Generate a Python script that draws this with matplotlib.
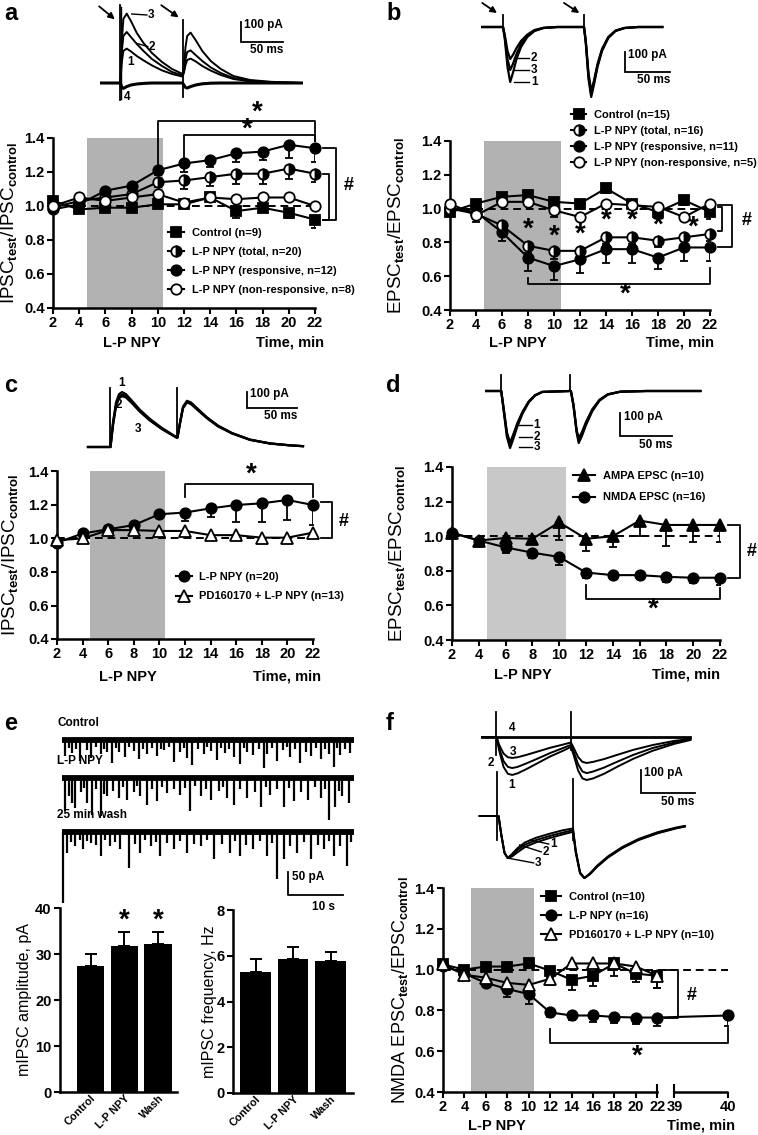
import matplotlib
matplotlib.use('Agg')
import matplotlib.pyplot as plt
import numpy as np

plt.rcParams['font.family'] = ['Liberation Sans', 'DejaVu Sans']
plt.rcParams['font.weight'] = 'bold'
plt.rcParams['mathtext.fontset'] = 'custom'
plt.rcParams['mathtext.rm'] = 'Liberation Sans'
plt.rcParams['mathtext.bf'] = 'Liberation Sans:bold'
plt.rcParams['axes.linewidth'] = 1.8

# ---------------- data ----------------
time = [2, 4, 6, 8, 10, 12, 14, 16, 18, 20, 22]
time_ticks = [2, 4, 6, 8, 10, 12, 14, 16, 18, 20, 22]

# panel a (IPSC)
a_control = [1.03, 0.98, 0.99, 0.99, 1.01, 1.01, 1.05, 0.97, 0.99, 0.96, 0.92]
a_control_err = [0.02, 0.02, 0.02, 0.02, 0.02, 0.02, 0.02, 0.04, 0.02, 0.03, 0.05]
a_total = [0.99, 1.03, 1.05, 1.07, 1.14, 1.15, 1.17, 1.19, 1.19, 1.22, 1.19]
a_total_err = [0.02, 0.02, 0.02, 0.03, 0.03, 0.05, 0.05, 0.06, 0.06, 0.06, 0.05]
a_resp = [0.98, 1.01, 1.09, 1.12, 1.21, 1.25, 1.27, 1.31, 1.32, 1.36, 1.34]
a_resp_err = [0.02, 0.02, 0.02, 0.02, 0.03, 0.05, 0.04, 0.05, 0.05, 0.08, 0.08]
a_nonresp = [1.0, 1.05, 1.03, 1.05, 1.07, 1.02, 1.05, 1.04, 1.05, 1.05, 1.0]
a_nonresp_err = [0.02, 0.02, 0.02, 0.02, 0.02, 0.02, 0.02, 0.02, 0.02, 0.02, 0.02]

# panel b (EPSC)
b_control = [0.98, 1.03, 1.07, 1.08, 1.04, 1.03, 1.12, 1.03, 0.98, 1.05, 0.98]
b_control_err = [0.02, 0.02, 0.02, 0.02, 0.03, 0.03, 0.03, 0.02, 0.03, 0.03, 0.04]
b_total = [1.0, 0.97, 0.90, 0.78, 0.75, 0.75, 0.83, 0.83, 0.81, 0.83, 0.85]
b_total_err = [0.02, 0.03, 0.04, 0.04, 0.05, 0.04, 0.04, 0.04, 0.04, 0.04, 0.04]
b_resp = [1.0, 0.98, 0.86, 0.71, 0.66, 0.70, 0.76, 0.76, 0.71, 0.77, 0.77]
b_resp_err = [0.02, 0.03, 0.05, 0.08, 0.08, 0.08, 0.08, 0.08, 0.07, 0.08, 0.08]
b_nonresp = [1.03, 0.96, 1.04, 1.04, 0.99, 0.95, 1.03, 1.02, 1.01, 0.95, 1.03]
b_nonresp_err = [0.02, 0.04, 0.02, 0.02, 0.04, 0.02, 0.03, 0.02, 0.02, 0.02, 0.02]

# panel c
c_lp = [0.975, 1.03, 1.055, 1.08, 1.145, 1.155, 1.18, 1.20, 1.21, 1.23, 1.20]
c_lp_err = [0.01, 0.01, 0.01, 0.02, 0.02, 0.05, 0.05, 0.10, 0.11, 0.12, 0.12]
c_pd = [0.99, 1.0, 1.05, 1.05, 1.045, 1.045, 1.02, 1.02, 1.005, 1.005, 1.035]
c_pd_err = [0.01, 0.01, 0.01, 0.01, 0.01, 0.01, 0.01, 0.01, 0.01, 0.01, 0.01]

# panel d
d_ampa = [1.02, 0.975, 0.99, 0.985, 1.08, 0.985, 1.0, 1.09, 1.065, 1.065, 1.065]
d_ampa_err = [0.01, 0.01, 0.04, 0.03, 0.10, 0.07, 0.065, 0.09, 0.12, 0.10, 0.10]
d_nmda = [1.02, 0.975, 0.935, 0.905, 0.88, 0.79, 0.775, 0.775, 0.765, 0.76, 0.76]
d_nmda_err = [0.01, 0.01, 0.03, 0.03, 0.045, 0.03, 0.025, 0.025, 0.03, 0.03, 0.04]

# panel e
bar_cats = ['Control', 'L-P NPY', 'Wash']
amp_vals = [27.3, 31.7, 32.1]
amp_err = [2.7, 3.1, 2.7]
freq_vals = [5.3, 5.85, 5.75]
freq_err = [0.55, 0.55, 0.4]
# mIPSC events: time (s), amplitude (pA)
ctrl_ev_t = [0.6, 1.2, 1.8, 2.6, 3.3, 4.5, 5.2, 6.1, 7.0, 7.6, 8.2, 9.1, 9.8, 10.4, 11.5, 12.2, 13.0,
             14.0, 14.8, 15.5, 16.4, 17.3, 18.0, 18.6, 19.5, 20.3, 21.5, 22.1, 22.7, 23.6, 24.7, 25.8,
             26.4, 27.0, 28.2, 28.9, 29.6, 30.4, 31.2, 32.4, 33.0, 33.6, 34.8, 35.8, 36.7, 37.3, 38.2,
             39.1, 40.2, 40.9, 41.5, 42.4, 43.3, 44.4, 45.2, 46.1, 47.0, 47.8, 48.5, 49.4, 50.0, 50.6,
             51.5, 52.4]
ctrl_ev_a = [35, 18, 28, 20, 45, 22, 40, 16, 30, 20, 25, 50, 18, 27, 38, 15, 24, 42, 20, 30, 17, 35,
             19, 22, 16, 48, 26, 18, 40, 55, 20, 30, 16, 24, 44, 18, 28, 20, 36, 52, 17, 25, 33, 19,
             60, 30, 18, 45, 22, 16, 38, 20, 50, 27, 35, 18, 42, 20, 30, 58, 17, 33, 20, 28]
lp_ev_t = [0.6, 1.2, 1.8, 2.4, 3.4, 4.0, 4.5, 5.5, 6.2, 7.0, 7.6, 8.2, 9.3, 10.3, 11.0, 11.8, 13.0,
           13.6, 14.2, 15.5, 16.4, 17.3, 18.2, 19.1, 20.4, 21.5, 22.4, 23.3, 24.2, 25.2, 26.1, 27.0,
           28.5, 29.2, 30.0, 31.2, 32.4, 33.6, 35.0, 36.1, 37.0, 37.9, 39.0, 40.3, 41.2, 42.1, 43.5,
           44.8, 46.0, 47.0, 47.8, 48.5, 49.7, 50.3, 50.9, 52.1]
lp_ev_a = [72, 40, 54, 65, 30, 22, 54, 80, 25, 83, 35, 40, 28, 43, 20, 47, 30, 18, 40, 58, 24, 51,
           20, 33, 25, 36, 22, 72, 18, 40, 24, 47, 28, 20, 43, 58, 25, 43, 30, 62, 20, 36, 25, 62,
           22, 51, 30, 47, 20, 43, 25, 91, 62, 28, 40, 54]
wash_ev_t = [0.2, 0.9, 1.6, 2.4, 3.2, 3.9, 4.6, 5.2, 6.1, 7.0, 7.9, 8.8, 9.7, 10.6, 12.1, 13.2, 14.2,
             15.1, 16.1, 17.0, 17.9, 19.0, 20.3, 21.5, 22.7, 24.0, 25.2, 26.4, 27.6, 29.0, 30.6, 31.5,
             32.4, 33.5, 34.8, 36.0, 37.3, 38.2, 39.1, 40.3, 41.5, 42.7, 44.0, 45.2, 46.5, 47.6, 48.5,
             49.4, 50.6, 51.8, 52.6]
wash_ev_a = [154, 45, 22, 30, 18, 38, 20, 23, 28, 52, 18, 30, 22, 38, 78, 25, 45, 18, 30, 22, 52, 24,
             38, 20, 45, 27, 30, 18, 59, 25, 45, 20, 52, 28, 38, 20, 52, 24, 103, 59, 30, 45, 22, 59,
             28, 38, 20, 52, 30, 74, 22]

# panel f
f_time_lp = [2, 4, 6, 8, 10, 12, 14, 16, 18, 20, 22, 40]
f_ticks = [2, 4, 6, 8, 10, 12, 14, 16, 18, 20, 22, 39, 40]
f_control = [1.025, 1.0, 1.015, 1.015, 1.03, 0.995, 0.95, 0.97, 1.03, 0.98, 0.97]
f_control_err = [0.01, 0.01, 0.02, 0.02, 0.02, 0.03, 0.05, 0.05, 0.03, 0.04, 0.06]
f_lp = [1.02, 0.98, 0.935, 0.905, 0.88, 0.79, 0.775, 0.775, 0.768, 0.765, 0.765, 0.775]
f_lp_err = [0.01, 0.01, 0.02, 0.04, 0.05, 0.02, 0.02, 0.03, 0.03, 0.03, 0.04, 0.05]
f_pd = [1.025, 0.975, 0.96, 0.935, 0.925, 0.955, 1.03, 1.03, 1.03, 1.015, 0.97]
f_pd_err = [0.01, 0.01, 0.02, 0.03, 0.03, 0.03, 0.02, 0.02, 0.06, 0.02, 0.06]

# example current traces (time ms, current pA)
a_t = [-22, 0.5, 2, 4, 8, 13, 20, 28, 38, 50, 62, 74.5, 76, 78, 80, 84, 90, 98, 108, 120, 135, 155, 180, 216]
a_tr3 = [0, 0, 200, 320, 347, 310, 250, 200, 150, 105, 70, 45, 80, 180, 235, 252, 215, 160, 110, 70, 35, 15, 6, 0]
a_tr2 = [0, 0, 150, 235, 255, 230, 195, 160, 120, 85, 55, 38, 60, 120, 155, 163, 140, 110, 78, 50, 25, 10, 4, 0]
a_tr1 = [0, 0, 100, 160, 172, 158, 135, 113, 88, 63, 45, 32, 50, 90, 115, 122, 108, 85, 62, 40, 20, 8, 3, 0]
a_tr4 = [0, 0, -20, -27, -18, -10, -5, -2, 0, 0, 0, 0, -10, -22, -25, -18, -10, -4, -1, 0, 0, 0, 0, 0]

b_t = [-23, -0.5, 0, 2, 5, 8, 11, 15, 20, 27, 35, 45, 60, 89.5, 90, 92, 95, 98, 101, 105, 110, 117, 125, 135, 150, 177]
b_tr1 = [0, 0, 0, -60, -200, -275, -230, -160, -100, -50, -20, -5, 0, 0, 0, -80, -260, -350, -290, -200, -120, -55, -20, -5, 0, 0]
b_tr2 = [0, 0, 0, -40, -120, -160, -140, -105, -70, -38, -15, -4, 0, 0, 0, -70, -230, -320, -270, -185, -110, -50, -18, -5, 0, 0]
b_tr3 = [0, 0, 0, -50, -160, -215, -185, -135, -85, -45, -18, -5, 0, 0, 0, -75, -245, -335, -280, -192, -115, -52, -19, -5, 0, 0]

c_t = [-22, -0.5, 0.5, 3, 6, 9, 12, 16, 22, 30, 40, 52, 66.5, 67.5, 70, 73, 77, 81, 88, 97, 108, 122, 140, 160, 180, 193]
c_tr1 = [0, 0, 0, 150, 270, 320, 333, 320, 280, 225, 170, 115, 60, 60, 150, 245, 280, 270, 230, 180, 130, 85, 45, 22, 10, 5]
c_tr2 = [0, 0, 0, 140, 255, 305, 318, 308, 270, 217, 163, 110, 58, 58, 145, 238, 273, 263, 225, 176, 127, 83, 44, 21, 10, 5]
c_tr3 = [0, 0, 0, 130, 245, 295, 308, 300, 265, 213, 160, 108, 57, 57, 142, 235, 270, 260, 222, 174, 125, 82, 43, 21, 10, 5]

d_t = [-14, -0.5, 0.5, 3, 6, 9, 12, 16, 21, 27, 33, 40, 66.5, 67.5, 70, 73, 75, 78, 82, 88, 95, 103, 115, 140, 192]
d_tr1 = [0, 0, 0, -80, -180, -225, -190, -140, -90, -45, -18, -4, 0, 0, -60, -170, -205, -180, -135, -80, -38, -14, -3, 0, 0]
d_tr2 = [0, 0, 0, -85, -190, -236, -200, -147, -94, -47, -19, -4, 0, 0, -62, -175, -215, -188, -141, -84, -40, -15, -3, 0, 0]
d_tr3 = [0, 0, 0, -90, -200, -248, -210, -154, -98, -49, -20, -4, 0, 0, -65, -180, -226, -197, -148, -88, -42, -16, -3, 0, 0]

f1_t = [-13, -0.5, 0.5, 3, 7, 11, 15, 20, 28, 38, 50, 62, 68.5, 69.5, 72, 76, 80, 84, 90, 100, 112, 127, 145, 165, 180]
f1_tr1 = [0, 0, 0, -60, -130, -160, -165, -158, -140, -115, -85, -60, -45, -45, -80, -145, -180, -187, -180, -160, -130, -95, -60, -30, -13]
f1_tr2 = [0, 0, 0, -50, -105, -130, -135, -130, -115, -95, -70, -48, -36, -36, -65, -118, -150, -157, -150, -133, -108, -78, -48, -24, -10]
f1_tr3 = [0, 0, 0, -35, -72, -88, -91, -88, -78, -64, -47, -33, -25, -25, -48, -87, -108, -113, -108, -96, -78, -56, -35, -17, -8]
f1_tr4 = [0, 0, 0, 0, 0, 0, 0, 0, 0, 0, 0, 0, 0, 0, 0, 0, 0, 0, 0, 0, 0, 0, 0, 0, 0]

f2_t = [-17, -0.5, 0.5, 3, 6, 9, 13, 18, 25, 35, 47, 60, 68.5, 69.5, 72, 76, 80, 85, 92, 102, 115, 130, 148, 165, 173]
f2_tr1 = [0, 0, 0, -80, -160, -183, -165, -140, -115, -95, -78, -62, -55, -55, -150, -245, -270, -250, -215, -175, -135, -100, -70, -50, -43]
f2_tr2 = [0, 0, 0, -80, -160, -183, -170, -148, -125, -105, -88, -72, -63, -63, -155, -248, -270, -252, -218, -178, -138, -103, -73, -52, -45]
f2_tr3 = [0, 0, 0, -80, -160, -183, -176, -158, -135, -115, -97, -80, -70, -70, -160, -250, -270, -254, -220, -180, -140, -105, -75, -54, -46]

# ---------------- helpers ----------------
W, H = 758, 1135
fig = plt.figure(figsize=(W / 100, H / 100), dpi=100)
K = 'black'
SHADE = '#b2b2b2'


def px_axes(x0, y0, x1, y1):
    return fig.add_axes([x0 / W, 1 - y1 / H, (x1 - x0) / W, (y1 - y0) / H])


def trace_axes(x0, y0, x1, y1, stim_x, ms_px, base_y, pa_px):
    ax = px_axes(x0, y0, x1, y1)
    ax.set_xlim((x0 - stim_x) / ms_px, (x1 - stim_x) / ms_px)
    ax.set_ylim((base_y - y1) / pa_px, (base_y - y0) / pa_px)
    ax.axis('off')
    return ax


def scalebar(ax, t, pa, tlen, plen, ylab, xlab, fs=8.5):
    ax.plot([t, t, t + tlen], [pa + plen, pa, pa], color=K, lw=1.3, clip_on=False,
            solid_joinstyle='miter')
    ax.text(t + 0.07 * tlen, pa + 0.85 * plen, ylab, ha='left', va='center', fontsize=fs)
    ax.text(t + tlen, pa - 0.12 * plen, xlab, ha='right', va='top', fontsize=fs)


def style_ts(ax, ylim=(0.4, 1.4), xlim=(2, 22)):
    for s in ['top', 'right']:
        ax.spines[s].set_visible(False)
    ax.set_xlim(*xlim)
    ax.set_ylim(*ylim)
    ax.set_yticks([0.4, 0.6, 0.8, 1.0, 1.2, 1.4])
    ax.set_yticklabels(['0.4', '0.6', '0.8', '1.0', '1.2', '1.4'])
    ax.tick_params(direction='out', length=4, width=1.5, labelsize=10.5, pad=2)


def series(ax, x, y, err, marker, fc='k', fillstyle='full', label=None, ms=7.5, z=3):
    ax.errorbar(x, y, yerr=[err, [0] * len(err)], fmt='none', ecolor=K, elinewidth=1.3,
                capsize=3, capthick=1.3, zorder=z - 0.5)
    ln, = ax.plot(x, y, color=K, lw=1.5, marker=marker, ms=ms, mfc=fc, mec=K, mew=1.3,
                  fillstyle=fillstyle, markerfacecoloralt='white', clip_on=False, zorder=z,
                  label=label)
    return ln


def bracket(ax, x0, x1, ytop, yl, yr):
    ax.plot([x0, x0, x1, x1], [yl, ytop, ytop, yr], color=K, lw=1.3, clip_on=False)


def vbracket(ax, x, x_in, y0, y1):
    ax.plot([x_in, x, x, x_in], [y0, y0, y1, y1], color=K, lw=1.3, clip_on=False)


def star(ax, x, y, fs=20):
    ax.text(x, y, '*', ha='center', va='center', fontsize=fs, fontweight='bold', clip_on=False)


def legend(ax, handles, anchor, spacing, hl=1.4):
    ax.legend(handles=handles, loc='upper left', bbox_to_anchor=anchor, frameon=False,
              handlelength=hl, handletextpad=0.7, labelspacing=spacing, borderpad=0,
              borderaxespad=0, numpoints=1, prop={'weight': 'bold', 'size': 8})


def xlabels(ax, xl, xr, y):
    tr = ax.get_xaxis_transform()
    ax.text(xl, y, 'L-P NPY', transform=tr, ha='center', va='center', fontsize=10.5)
    ax.text(xr, y, 'Time, min', transform=tr, ha='center', va='center', fontsize=10.5)


def dashed(ax, x0, x1):
    ax.plot([x0, x1], [1.0, 1.0], color=K, lw=1.4, ls=(0, (4, 2.5)), zorder=1)


def panel_letter(x, y, s):
    fig.text(x / W, 1 - y / H, s, fontsize=17, fontweight='bold', ha='left', va='center')


def draw_traces(ax, t, traces, lw=1.4):
    for tr in traces:
        ax.plot(t, tr, color=K, lw=lw, solid_joinstyle='round')


# ---------------- panel a ----------------
panel_letter(4, 14, 'a')
ta = trace_axes(88, 0, 305, 102, 120, 0.84, 83, 0.2)
draw_traces(ta, a_t, [a_tr1, a_tr2, a_tr3])
ta.plot(a_t, a_tr4, color=K, lw=2.2)
ta.plot([0, 0], [-85, 390], color=K, lw=1.3)
ta.plot([1.5, 1.5], [-80, 380], color=K, lw=1.0)
ta.plot([75, 75], [-70, 315], color=K, lw=1.3)
ta.annotate('', xy=(-3.6, 310), xytext=(-27.4, 392),
            arrowprops=dict(arrowstyle='-|>', color=K, lw=1.3, mutation_scale=9))
ta.annotate('', xy=(72.6, 320), xytext=(46.4, 397),
            arrowprops=dict(arrowstyle='-|>', color=K, lw=1.3, mutation_scale=9))
ta.plot([14, 32], [345, 340], color=K, lw=1.0)
ta.text(33, 340, '3', ha='left', va='center', fontsize=8.5)
ta.plot([20, 33], [198, 182], color=K, lw=1.0)
ta.text(34, 180, '2', ha='left', va='center', fontsize=8.5)
ta.text(12, 105, '1', ha='center', va='center', fontsize=8.5)
ta.text(8.3, -70, '4', ha='center', va='center', fontsize=8.5)
scalebar(ta, 144, 205, 50, 100, '100 pA', '50 ms')

axa = px_axes(53, 138, 315, 308)
style_ts(axa)
axa.axvspan(4.6, 10.4, facecolor=SHADE, edgecolor='none', zorder=0)
dashed(axa, time[0], time[-1])
h1 = series(axa, time, a_control, a_control_err, 's', label='Control (n=9)')
h2 = series(axa, time, a_total, a_total_err, 'o', fillstyle='right', label='L-P NPY (total, n=20)')
h3 = series(axa, time, a_resp, a_resp_err, 'o', label='L-P NPY (responsive, n=12)')
h4 = series(axa, time, a_nonresp, a_nonresp_err, 'o', fc='white', label='L-P NPY (non-responsive, n=8)')
axa.set_xticks(time_ticks)
axa.set_ylabel('IPSC$_{\\rm test}$/IPSC$_{\\rm control}$', fontsize=13.5)
axa.yaxis.set_label_coords(-0.125, 0.5)
legend(axa, [h1, h2, h3, h4], (0.44, 0.47), 0.8)
bracket(axa, 10, 22, 1.5, a_resp[4] + 0.03, a_resp[-1] + 0.04)
bracket(axa, 12, 22, 1.42, a_resp[5] + 0.04, a_resp[-1] + 0.04)
star(axa, 17.6, 1.55)
star(axa, 16.8, 1.45)
vbracket(axa, 23.6, 22.6, a_resp[-1], a_control[-1])
vbracket(axa, 23.1, 22.6, a_total[-1], a_control[-1])
axa.text(24.6, 1.12, '#', ha='center', va='center', fontsize=13)
xlabels(axa, 8.0, 20.1, -0.205)

# ---------------- panel b ----------------
panel_letter(386, 14, 'b')
tb = trace_axes(470, 0, 700, 105, 503, 0.9, 27, 0.2)
draw_traces(tb, b_t, [b_tr1, b_tr2, b_tr3], lw=1.6)
tb.plot([0, 0], [0, 60], color=K, lw=1.3)
tb.plot([90, 90], [0, 60], color=K, lw=1.3)
tb.annotate('', xy=(-4.1, 62), xytext=(-25.6, 128),
            arrowprops=dict(arrowstyle='-|>', color=K, lw=1.3, mutation_scale=9))
tb.annotate('', xy=(87.4, 62), xytext=(65.2, 128),
            arrowprops=dict(arrowstyle='-|>', color=K, lw=1.3, mutation_scale=9))
for yv, s in zip([-153, -215, -273], ['2', '3', '1']):
    tb.plot([12, 29], [yv, yv], color=K, lw=1.0)
    tb.text(31, yv, s, ha='left', va='center', fontsize=8.5)
scalebar(tb, 135.6, -225, 50, 100, '100 pA', '50 ms')

axb = px_axes(450, 141, 710, 310)
style_ts(axb)
axb.axvspan(4.6, 10.5, facecolor=SHADE, edgecolor='none', zorder=0)
dashed(axb, time[0], time[-1])
g1 = series(axb, time, b_control, b_control_err, 's', label='Control (n=15)')
g2 = series(axb, time, b_total, b_total_err, 'o', fillstyle='right', label='L-P NPY (total, n=16)', z=4)
g3 = series(axb, time, b_resp, b_resp_err, 'o', label='L-P NPY (responsive, n=11)')
g4 = series(axb, time, b_nonresp, b_nonresp_err, 'o', fc='white', label='L-P NPY (non-responsive, n=5)', z=4)
axb.set_xticks(time_ticks)
axb.set_ylabel('EPSC$_{\\rm test}$/EPSC$_{\\rm control}$', fontsize=13.5)
axb.yaxis.set_label_coords(-0.165, 0.5)
legend(axb, [g1, g2, g3, g4], (0.465, 1.185), 0.55)
for xs, ys in zip([8, 10, 12, 14, 16, 18, 20.7], [0.875, 0.835, 0.845, 0.93, 0.93, 0.90, 0.89]):
    star(axb, xs, ys)
bracket(axb, 8, 22, 0.555, b_resp[3] - 0.12, b_resp[-1] - 0.12)
star(axb, 15.5, 0.49)
vbracket(axb, 23.7, 22.6, b_control[-1] + 0.04, b_resp[-1])
vbracket(axb, 22.95, 22.6, b_nonresp[-1] - 0.02, b_total[-1] + 0.02)
axb.text(24.8, 0.93, '#', ha='center', va='center', fontsize=13)
xlabels(axb, 7.2, 19.7, -0.195)

# ---------------- panel c ----------------
panel_letter(4, 385, 'c')
tc = trace_axes(85, 375, 305, 452, 110, 1.0, 447, 0.165)
draw_traces(tc, c_t, [c_tr1, c_tr2, c_tr3], lw=1.6)
tc.plot([0, 0], [0, 357], color=K, lw=1.3)
tc.plot([67, 67], [55, 357], color=K, lw=1.3)
tc.text(12, 385, '1', ha='center', va='center', fontsize=8.5)
tc.text(9, 255, '2', ha='center', va='center', fontsize=8.5)
tc.text(28, 109, '3', ha='center', va='center', fontsize=8.5)
scalebar(tc, 137, 236, 50, 100, '100 pA', '50 ms')

axc = px_axes(57, 471.5, 313, 639)
style_ts(axc)
axc.axvspan(4.6, 10.4, facecolor=SHADE, edgecolor='none', zorder=0)
dashed(axc, time[0], time[-1])
k1 = series(axc, time, c_lp, c_lp_err, 'o', label='L-P NPY (n=20)')
k2 = series(axc, time, c_pd, c_pd_err, '^', fc='white', label='PD160170 + L-P NPY (n=13)', ms=8)
axc.set_xticks(time_ticks)
axc.set_ylabel('IPSC$_{\\rm test}$/IPSC$_{\\rm control}$', fontsize=13.5)
axc.yaxis.set_label_coords(-0.14, 0.5)
legend(axc, [k1, k2], (0.465, 0.40), 0.85)
bracket(axc, 12, 22, 1.325, c_lp[5] + 0.09, c_lp[-1] + 0.05)
star(axc, 17.2, 1.38)
vbracket(axc, 23.5, 22.6, c_lp[-1] + 0.02, 1.0)
axc.text(24.4, 1.1, '#', ha='center', va='center', fontsize=13)
xlabels(axc, 7.5, 20.0, -0.225)

# ---------------- panel d ----------------
panel_letter(386, 385, 'd')
td = trace_axes(480, 365, 705, 455, 500.7, 1.04, 391, 0.23)
draw_traces(td, d_t, [d_tr1, d_tr2, d_tr3], lw=1.6)
td.plot([0, 0], [0, 70], color=K, lw=1.3)
td.plot([67, 67], [0, 70], color=K, lw=1.3)
for yv, s in zip([-148, -200, -243], ['1', '2', '3']):
    td.plot([18, 30], [yv, yv], color=K, lw=1.0)
    td.text(31.5, yv, s, ha='left', va='center', fontsize=8.5)
scalebar(td, 114.7, -196, 50, 100, '100 pA', '50 ms')

axd = px_axes(452, 467, 720, 640)
style_ts(axd)
axd.axvspan(4.6, 10.5, facecolor='#c8c8c8', edgecolor='none', zorder=0)
dashed(axd, time[0], time[-1])
m1 = series(axd, time, d_ampa, d_ampa_err, '^', label='AMPA EPSC (n=10)', ms=8)
m2 = series(axd, time, d_nmda, d_nmda_err, 'o', label='NMDA EPSC (n=16)')
axd.set_xticks(time_ticks)
axd.set_ylabel('EPSC$_{\\rm test}$/EPSC$_{\\rm control}$', fontsize=13.5)
axd.yaxis.set_label_coords(-0.165, 0.5)
legend(axd, [m1, m2], (0.45, 0.975), 1.0, hl=2.0)
bracket(axd, 12, 22, 0.635, d_nmda[5] - 0.07, d_nmda[-1] - 0.06)
star(axd, 17.0, 0.575)
vbracket(axd, 23.5, 22.6, d_ampa[-1], d_nmda[-1])
axd.text(24.4, 0.91, '#', ha='center', va='center', fontsize=13)
xlabels(axd, 7.3, 19.5, -0.2)

# ---------------- panel e ----------------
panel_letter(4, 724, 'e')
te = px_axes(55, 710, 360, 905)
te.set_xlim((55 - 62) / 5.5, (360 - 62) / 5.5)
te.set_ylim((740 - 905) / 0.46, (740 - 710) / 0.46)
te.axis('off')
trace_offsets = [0, -82.6, -200]
trace_names = ['Control', 'L-P NPY', '25 min wash']
trace_events = [(ctrl_ev_t, ctrl_ev_a), (lp_ev_t, lp_ev_a), (wash_ev_t, wash_ev_a)]
for off, name, (evt, eva) in zip(trace_offsets, trace_names, trace_events):
    te.plot([0, 53], [off, off], color=K, lw=4.2, solid_capstyle='butt')
    te.vlines(evt, off, [off - a for a in eva], color=K, lw=1.6)
    te.text(-0.9, off + 38, name, ha='left', va='center', fontsize=8.5)
te.plot([41.1, 41.1, 51.1], [-287, -337, -337], color=K, lw=1.3, clip_on=False)
te.text(41.8, -297, '50 pA', ha='left', va='center', fontsize=8.5)
te.text(47.5, -350, '10 s', ha='center', va='top', fontsize=8.5)


def style_bar(ax, ylabel, labx):
    for s in ['top', 'right']:
        ax.spines[s].set_visible(False)
    ax.tick_params(axis='y', direction='out', length=4, width=1.5, labelsize=10.5, pad=2)
    ax.tick_params(axis='x', length=0, labelsize=7.8, pad=1)
    ax.set_xticks(range(len(bar_cats)))
    ax.set_xticklabels(bar_cats, rotation=45, ha='right', rotation_mode='anchor')
    ax.set_ylabel(ylabel, fontsize=11.5)
    ax.yaxis.set_label_coords(labx, 0.5)


axe1 = px_axes(60, 908, 177, 1092)
axe1.bar(range(3), amp_vals, width=0.82, color=K, zorder=2)
axe1.errorbar(range(3), amp_vals, yerr=[[0] * 3, amp_err], fmt='none', ecolor=K, elinewidth=1.4,
              capsize=4, capthick=1.4, zorder=1)
axe1.set_xlim(-0.9, 2.55)
axe1.set_ylim(0, 40)
axe1.set_yticks([0, 10, 20, 30, 40])
style_bar(axe1, 'mIPSC amplitude, pA', -0.24)
star(axe1, 1, amp_vals[1] + amp_err[1] + 2.5)
star(axe1, 2, amp_vals[2] + amp_err[2] + 2.5)

axe2 = px_axes(233, 910, 353, 1093)
axe2.bar(range(3), freq_vals, width=0.82, color=K, zorder=2)
axe2.errorbar(range(3), freq_vals, yerr=[[0] * 3, freq_err], fmt='none', ecolor=K, elinewidth=1.4,
              capsize=4, capthick=1.4, zorder=1)
axe2.set_xlim(-0.6, 2.6)
axe2.set_ylim(0, 8)
axe2.set_yticks([0, 2, 4, 6, 8])
style_bar(axe2, 'mIPSC frequency, Hz', -0.13)

# ---------------- panel f ----------------
panel_letter(386, 723, 'f')
tf1 = trace_axes(478, 705, 700, 800, 496, 1.08, 737, 0.23)
draw_traces(tf1, f1_t, [f1_tr1, f1_tr2, f1_tr3])
tf1.plot(f1_t, f1_tr4, color=K, lw=2.0)
tf1.plot([0, 0], [-78, 109], color=K, lw=1.3)
tf1.plot([69, 69], [-57, 109], color=K, lw=1.3)
tf1.text(14.8, 39, '4', ha='center', va='center', fontsize=8.5)
tf1.text(15.7, -65, '3', ha='center', va='center', fontsize=8.5)
tf1.text(-1.5, -113, '2', ha='right', va='center', fontsize=8.5)
tf1.text(14.8, -209, '1', ha='center', va='center', fontsize=8.5)
scalebar(tf1, 134, -243, 50, 100, '100 pA', '50 ms')

tf2 = trace_axes(478, 765, 700, 885, 498, 1.08, 816, 0.23)
draw_traces(tf2, f2_t, [f2_tr1, f2_tr2, f2_tr3])
tf2.plot([-0.5, -0.5], [-104, 191], color=K, lw=1.3)
tf2.plot([69, 69], [-104, 161], color=K, lw=1.3)
tf2.plot([9, 33], [-183, -204], color=K, lw=1.0)
tf2.text(34, -204, '3', ha='left', va='center', fontsize=8.5)
tf2.plot([20, 40], [-126, -156], color=K, lw=1.0)
tf2.text(41, -156, '2', ha='left', va='center', fontsize=8.5)
tf2.plot([30, 47], [-104, -122], color=K, lw=1.0)
tf2.text(48, -122, '1', ha='left', va='center', fontsize=8.5)


def fx(t):
    return t if t <= 22 else 23.6 + (t - 39) * 5.0


axf = px_axes(443, 888, 728, 1092)
style_ts(axf, xlim=(2, fx(40)))
axf.axvspan(4.6, 10.5, facecolor=SHADE, edgecolor='none', zorder=0)
dashed(axf, fx(time[0]), fx(f_time_lp[-1]))
fxs = [fx(t) for t in time]
fxl = [fx(t) for t in f_time_lp]
n1 = series(axf, fxs, f_control, f_control_err, 's', label='Control (n=10)')
n2 = series(axf, fxl, f_lp, f_lp_err, 'o', label='L-P NPY (n=16)')
n3 = series(axf, fxs, f_pd, f_pd_err, '^', fc='white', label='PD160170 + L-P NPY (n=10)', ms=8)
axf.set_xticks([fx(t) for t in f_ticks])
axf.set_xticklabels([str(t) for t in f_ticks])
axf.spines['bottom'].set_bounds(2, 22)
y0 = axf.get_ylim()[0]
axf.plot([fx(39), fx(40)], [y0, y0], color=K, lw=1.8, clip_on=False, solid_capstyle='butt')
axf.plot([22, 22], [y0, y0 + 0.035], color=K, lw=1.5, clip_on=False)
axf.plot([fx(39), fx(39)], [y0, y0 + 0.035], color=K, lw=1.5, clip_on=False)
axf.set_ylabel('NMDA EPSC$_{\\rm test}$/EPSC$_{\\rm control}$', fontsize=13)
axf.yaxis.set_label_coords(-0.115, 0.5)
legend(axf, [n1, n2, n3], (0.345, 0.98), 0.8, hl=1.8)
bracket(axf, 12, fx(40), 0.64, f_lp[5] - 0.08, f_lp[-1] - 0.06)
star(axf, 20.1, 0.575)
vbracket(axf, fx(39) + 0.3, 22.7, 1.0, f_lp[10])
axf.text(25.2, 0.875, '#', ha='center', va='center', fontsize=13)
xlabels(axf, 7.0, 26.1, -0.165)

fig.savefig('out.png', dpi=100)
